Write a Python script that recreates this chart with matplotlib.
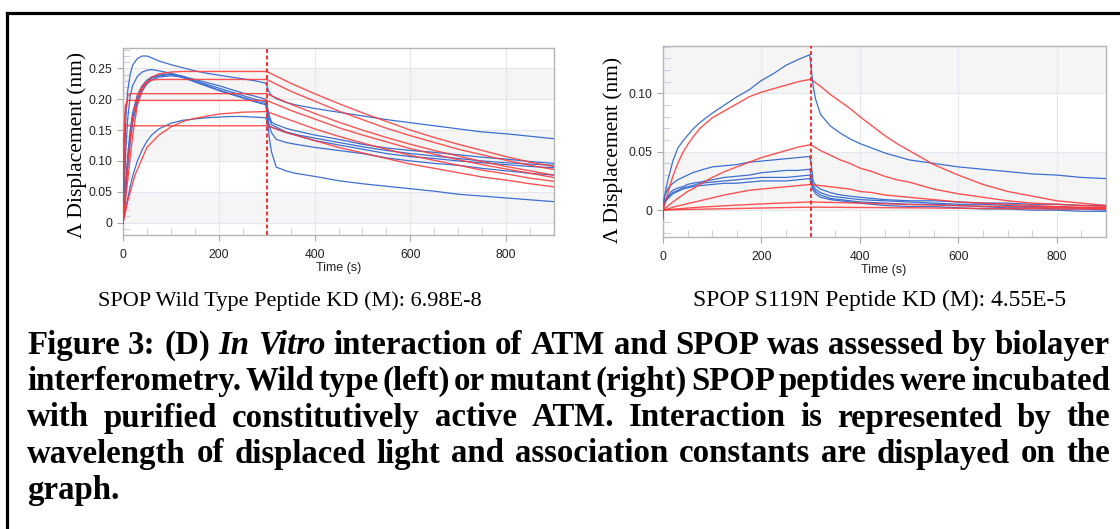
import matplotlib.pyplot as plt
from matplotlib.lines import Line2D
import numpy as np

# ---------------- data ----------------
# wild type peptide: measured traces (blue), one shared time base
wt_time = [0, 3, 6, 10, 15, 20, 30, 40, 50, 60, 75, 100, 125, 150, 175, 200, 225, 250, 275, 298,
           301, 305, 310, 320, 340, 360, 400, 450, 500, 550, 600, 650, 700, 750, 800, 850, 900]
wt_trace_1 = [0.0, 0.09, 0.17, 0.215, 0.240, 0.255, 0.266, 0.270, 0.270, 0.267, 0.262, 0.256, 0.251, 0.246, 0.242,
              0.239, 0.236, 0.233, 0.230, 0.226,
              0.220, 0.212, 0.206, 0.201, 0.195, 0.191, 0.185, 0.179, 0.173, 0.167, 0.162, 0.157, 0.152, 0.147,
              0.144, 0.140, 0.136]
wt_trace_2 = [0.0, 0.06, 0.12, 0.17, 0.205, 0.222, 0.237, 0.244, 0.247, 0.248, 0.246, 0.242, 0.237, 0.232, 0.227,
              0.222, 0.216, 0.210, 0.205, 0.200,
              0.190, 0.175, 0.163, 0.159, 0.153, 0.149, 0.142, 0.135, 0.127, 0.121, 0.117, 0.114, 0.110, 0.106,
              0.103, 0.099, 0.096]
wt_trace_3 = [0.0, 0.03, 0.07, 0.11, 0.15, 0.178, 0.207, 0.222, 0.231, 0.236, 0.239, 0.241, 0.237, 0.230, 0.224,
              0.218, 0.212, 0.206, 0.200, 0.196,
              0.185, 0.170, 0.159, 0.155, 0.147, 0.143, 0.137, 0.130, 0.123, 0.117, 0.112, 0.108, 0.104, 0.100,
              0.097, 0.095, 0.093]
wt_trace_4 = [0.0, 0.02, 0.05, 0.09, 0.13, 0.16, 0.195, 0.213, 0.225, 0.231, 0.236, 0.238, 0.236, 0.229, 0.222,
              0.215, 0.209, 0.203, 0.197, 0.193,
              0.175, 0.140, 0.115, 0.090, 0.084, 0.080, 0.075, 0.068, 0.063, 0.059, 0.055, 0.051, 0.046, 0.043,
              0.040, 0.037, 0.034]
wt_trace_5 = [0.0, 0.012, 0.025, 0.04, 0.058, 0.075, 0.10, 0.118, 0.132, 0.142, 0.152, 0.161, 0.166, 0.168, 0.170,
              0.171, 0.172, 0.172, 0.171, 0.170,
              0.165, 0.158, 0.155, 0.152, 0.146, 0.142, 0.133, 0.126, 0.119, 0.112, 0.107, 0.104, 0.100, 0.097,
              0.094, 0.091, 0.089]
wt_trace_6 = [0.0, 0.025, 0.06, 0.10, 0.14, 0.17, 0.20, 0.218, 0.228, 0.234, 0.238, 0.240, 0.235, 0.228, 0.221,
              0.214, 0.208, 0.202, 0.196, 0.191,
              0.180, 0.158, 0.146, 0.135, 0.130, 0.127, 0.122, 0.117, 0.112, 0.105, 0.100, 0.096, 0.093, 0.088,
              0.084, 0.080, 0.077]

# wild type: fitted curves (red), association part
wt_fit1_t = [0, 10, 20, 30, 40, 50, 60, 75, 100, 125, 300]
wt_fit1_v = [0, 0.07, 0.14, 0.19, 0.215, 0.228, 0.236, 0.241, 0.244, 0.245, 0.245]
wt_fit2_t = [0, 10, 20, 30, 40, 50, 60, 75, 300]
wt_fit2_v = [0, 0.10, 0.17, 0.205, 0.221, 0.228, 0.231, 0.232, 0.232]
wt_fit3_t = [0, 2, 5, 10, 15, 300]
wt_fit3_v = [0, 0.12, 0.18, 0.205, 0.209, 0.209]
wt_fit4_t = [0, 2, 5, 10, 300]
wt_fit4_v = [0, 0.14, 0.19, 0.198, 0.198]
wt_fit5_t = [0, 10, 25, 50, 75, 100, 125, 150, 200, 250, 300]
wt_fit5_v = [0, 0.035, 0.077, 0.122, 0.142, 0.155, 0.164, 0.169, 0.176, 0.179, 0.180]
wt_fit6_t = [0, 2, 5, 300]
wt_fit6_v = [0, 0.14, 0.157, 0.157]
# dissociation part
wt_off_t = [300, 350, 400, 450, 500, 550, 600, 650, 700, 750, 800, 850, 900]
wt_off_1 = [0.245, 0.226, 0.209, 0.193, 0.178, 0.164, 0.150, 0.138, 0.127, 0.117, 0.107, 0.098, 0.091]
wt_off_2 = [0.232, 0.213, 0.197, 0.181, 0.167, 0.153, 0.141, 0.130, 0.119, 0.110, 0.101, 0.093, 0.086]
wt_off_3 = [0.209, 0.192, 0.177, 0.163, 0.150, 0.138, 0.127, 0.117, 0.108, 0.099, 0.091, 0.084, 0.077]
wt_off_4 = [0.198, 0.182, 0.168, 0.154, 0.142, 0.131, 0.120, 0.111, 0.102, 0.094, 0.087, 0.080, 0.073]
wt_off_5 = [0.180, 0.166, 0.152, 0.140, 0.129, 0.119, 0.109, 0.101, 0.093, 0.085, 0.079, 0.072, 0.067]
wt_off_6 = [0.157, 0.144, 0.133, 0.122, 0.113, 0.104, 0.095, 0.088, 0.081, 0.074, 0.069, 0.063, 0.058]

# S119N mutant peptide: measured traces
mut_time = [0, 2, 5, 10, 15, 20, 30, 40, 50, 60, 75, 100, 125, 150, 175, 200, 225, 250, 275, 298,
            301, 305, 310, 320, 340, 360, 380, 400, 450, 500, 550, 600, 650, 700, 750, 800, 850, 900]
mut_trace_1 = [-0.008, 0.008, 0.016, 0.026, 0.034, 0.042, 0.053, 0.059, 0.064, 0.069, 0.075, 0.083, 0.090, 0.097,
               0.103, 0.111, 0.117, 0.124, 0.129, 0.133,
               0.122, 0.106, 0.095, 0.082, 0.072, 0.066, 0.061, 0.057, 0.049, 0.043, 0.040, 0.037, 0.035, 0.033,
               0.031, 0.030, 0.028, 0.027]
mut_trace_2 = [0.0, 0.010, 0.014, 0.018, 0.021, 0.023, 0.026, 0.028, 0.030, 0.032, 0.034, 0.037, 0.038, 0.039,
               0.041, 0.042, 0.043, 0.044, 0.045, 0.046,
               0.040, 0.025, 0.021, 0.018, 0.015, 0.013, 0.012, 0.011, 0.009, 0.008, 0.008, 0.007, 0.006, 0.006,
               0.005, 0.005, 0.004, 0.004]
mut_trace_3 = [0.0, 0.006, 0.009, 0.012, 0.015, 0.017, 0.019, 0.020, 0.022, 0.023, 0.024, 0.026, 0.028, 0.029,
               0.030, 0.032, 0.033, 0.034, 0.034, 0.035,
               0.030, 0.021, 0.018, 0.015, 0.012, 0.011, 0.010, 0.009, 0.008, 0.007, 0.006, 0.005, 0.005, 0.004,
               0.003, 0.003, 0.002, 0.002]
mut_trace_4 = [0.0, 0.005, 0.008, 0.011, 0.013, 0.015, 0.017, 0.019, 0.020, 0.021, 0.023, 0.024, 0.025, 0.026,
               0.027, 0.028, 0.028, 0.028, 0.029, 0.030,
               0.026, 0.019, 0.016, 0.013, 0.010, 0.009, 0.008, 0.007, 0.006, 0.005, 0.005, 0.004, 0.003, 0.002,
               0.002, 0.001, 0.001, 0.000]
mut_trace_5 = [0.0, 0.004, 0.007, 0.010, 0.012, 0.014, 0.016, 0.018, 0.019, 0.020, 0.021, 0.022, 0.023, 0.023,
               0.024, 0.025, 0.025, 0.025, 0.026, 0.027,
               0.023, 0.017, 0.014, 0.011, 0.009, 0.008, 0.007, 0.006, 0.004, 0.003, 0.003, 0.002, 0.001, 0.001,
               0.000, 0.000, -0.001, -0.001]

# mutant: fitted curves
mut_on_t = [0, 10, 20, 30, 40, 50, 60, 75, 100, 125, 150, 175, 200, 225, 250, 275, 300]
mut_on_1 = [0, 0.015, 0.029, 0.040, 0.049, 0.056, 0.062, 0.070, 0.079, 0.085, 0.091, 0.097, 0.101, 0.104, 0.107, 0.110, 0.112]
mut_on_2 = [0, 0.0035, 0.007, 0.010, 0.013, 0.016, 0.018, 0.022, 0.028, 0.033, 0.037, 0.041, 0.045, 0.048, 0.051, 0.054, 0.056]
mut_on_3 = [0, 0.001, 0.0025, 0.0035, 0.0045, 0.0055, 0.0065, 0.008, 0.0105, 0.013, 0.015, 0.017, 0.018, 0.019, 0.020, 0.021, 0.022]
mut_on_4 = [0, 0.0004, 0.0008, 0.0011, 0.0014, 0.0018, 0.0021, 0.0025, 0.0031, 0.0037, 0.0043, 0.0048, 0.0053, 0.0058, 0.0062, 0.0066, 0.007]
mut_on_5 = [0, 0.0001, 0.0003, 0.0004, 0.0005, 0.0006, 0.0007, 0.0008, 0.001, 0.0012, 0.0014, 0.0016, 0.0018, 0.002, 0.0022, 0.0024, 0.0025]
mut_off_t = [300, 320, 340, 360, 380, 400, 425, 450, 475, 500, 550, 600, 650, 700, 750, 800, 850, 900]
mut_off_1 = [0.112, 0.106, 0.099, 0.093, 0.087, 0.080, 0.072, 0.064, 0.057, 0.051, 0.039, 0.030, 0.022, 0.016, 0.012, 0.008, 0.006, 0.004]
mut_off_2 = [0.056, 0.051, 0.047, 0.043, 0.040, 0.036, 0.033, 0.029, 0.026, 0.024, 0.018, 0.014, 0.011, 0.008, 0.006, 0.005, 0.004, 0.003]
mut_off_3 = [0.022, 0.021, 0.020, 0.019, 0.018, 0.016, 0.015, 0.013, 0.012, 0.011, 0.009, 0.007, 0.006, 0.005, 0.004, 0.003, 0.0025, 0.002]
mut_off_4 = [0.007, 0.0068, 0.0066, 0.0064, 0.0062, 0.006, 0.0057, 0.0054, 0.0051, 0.0048, 0.0043, 0.0038, 0.0034, 0.003, 0.0026, 0.0022, 0.0018, 0.0015]
mut_off_5 = [0.0025, 0.0025, 0.0024, 0.0024, 0.0023, 0.0023, 0.0022, 0.0021, 0.002, 0.002, 0.0018, 0.0016, 0.0015, 0.0013, 0.0012, 0.001, 0.0009, 0.0008]

x_ticks = [0, 200, 400, 600, 800]
wt_yticks = [0, 0.05, 0.10, 0.15, 0.20, 0.25]
wt_ylabels = ['0', '0.05', '0.10', '0.15', '0.20', '0.25']
mut_yticks = [0, 0.05, 0.10]
mut_ylabels = ['0', '0.05', '0.10']

wt_caption = 'SPOP Wild Type Peptide KD (M): 6.98E-8'
mut_caption = 'SPOP S119N Peptide KD (M): 4.55E-5'
legend_lines = [
    'Figure 3: (D) In Vitro interaction of ATM and SPOP was assessed by biolayer',
    'interferometry. Wild type (left) or mutant (right) SPOP peptides were incubated',
    'with purified constitutively active ATM. Interaction is represented by the',
    'wavelength of displaced light and association constants are displayed on the',
    'graph.',
]
italic_words = {'In', 'Vitro'}

# ---------------- figure ----------------
W, H = 1120, 529
fig = plt.figure(figsize=(W / 100, H / 100), dpi=100)
fig.patch.set_facecolor('white')

BLUE = '#3d6fd1'
RED = '#ff3535'
TICK_FONT = 'Liberation Sans'


def fx(px):
    return px / W


def fy(py):
    return 1 - py / H


def style_axes(ax, ylim, yticks, ylabels, bands):
    ax.set_xlim(0, 900)
    ax.set_ylim(*ylim)
    for lo, hi in bands:
        ax.axhspan(lo, hi, color='#f5f5f5', lw=0, zorder=0)
    ax.set_xticks(x_ticks)
    ax.set_xticks(np.arange(50, 900, 50), minor=True)
    ax.set_yticks(yticks)
    ax.set_yticklabels(ylabels)
    ax.set_yticks(np.arange(-0.02, ylim[1], 0.01), minor=True)
    ax.grid(which='major', color='#e6e6ee', lw=0.8, zorder=0.5)
    ax.set_axisbelow(True)
    for s in ax.spines.values():
        s.set_color('#b5b5b5')
        s.set_linewidth(1.0)
    ax.tick_params(which='major', direction='out', length=4, width=0.8, color='#a8a8a8',
                   labelsize=8.8, labelcolor='#222222')
    ax.tick_params(axis='x', which='major', pad=6)
    ax.tick_params(axis='y', which='major', pad=4)
    ax.tick_params(which='minor', direction='in', length=5, width=0.8, color='#cfd0e6')
    for lab in ax.get_xticklabels() + ax.get_yticklabels():
        lab.set_fontfamily(TICK_FONT)
    ax.axvline(300, color='#ff2020', lw=1.3, ls=(0, (2.2, 1.4)), zorder=6)


# left panel
ax1 = fig.add_axes([fx(123), fy(235), fx(554 - 123), 187 / H])
style_axes(ax1, (0, 0.283), wt_yticks, wt_ylabels, [(0, 0.05), (0.10, 0.15), (0.20, 0.25)])
for tr in [wt_trace_1, wt_trace_2, wt_trace_3, wt_trace_4, wt_trace_5, wt_trace_6]:
    ax1.plot(wt_time, tr, color=BLUE, lw=0.9, zorder=3)
for t, v in [(wt_fit1_t, wt_fit1_v), (wt_fit2_t, wt_fit2_v), (wt_fit3_t, wt_fit3_v),
             (wt_fit4_t, wt_fit4_v), (wt_fit5_t, wt_fit5_v), (wt_fit6_t, wt_fit6_v)]:
    ax1.plot(t, v, color=RED, lw=1.0, alpha=0.85, zorder=4)
for v in [wt_off_1, wt_off_2, wt_off_3, wt_off_4, wt_off_5, wt_off_6]:
    ax1.plot(wt_off_t, v, color=RED, lw=1.0, alpha=0.85, zorder=4)

# right panel
ax2 = fig.add_axes([fx(663), fy(237), fx(1106 - 663), 191 / H])
style_axes(ax2, (-0.023, 0.1405), mut_yticks, mut_ylabels, [(0, 0.05), (0.10, 0.1405)])
for tr in [mut_trace_1, mut_trace_2, mut_trace_3, mut_trace_4, mut_trace_5]:
    ax2.plot(mut_time, tr, color=BLUE, lw=0.9, zorder=3)
for on, off in [(mut_on_1, mut_off_1), (mut_on_2, mut_off_2), (mut_on_3, mut_off_3),
                (mut_on_4, mut_off_4), (mut_on_5, mut_off_5)]:
    ax2.plot(mut_on_t, on, color=RED, lw=1.0, alpha=0.85, zorder=4)
    ax2.plot(mut_off_t, off, color=RED, lw=1.0, alpha=0.85, zorder=4)

# axis titles
for x, y in [(339, 268), (884, 270)]:
    fig.text(fx(x), fy(y), 'Time (s)', fontsize=9, family=TICK_FONT, color='#222222',
             ha='center', va='center')
for x, y in [(77, 145), (613, 150)]:
    fig.text(fx(x), fy(y), 'Λ Displacement (nm)', fontsize=15.5, family='Liberation Serif',
             rotation=90, ha='center', va='center')

# KD captions
fig.text(fx(290), fy(306), wt_caption, fontsize=16, family='Liberation Serif', ha='center', va='baseline')
fig.text(fx(880), fy(306), mut_caption, fontsize=17, family='Liberation Serif', ha='center', va='baseline')

# frame around the figure block (left and top edges visible)
fig.add_artist(Line2D([fx(6.5), fx(6.5)], [fy(13), 0], color='black', lw=2.3, transform=fig.transFigure))
fig.add_artist(Line2D([fx(6.5), 1], [fy(13), fy(13)], color='black', lw=2.3, transform=fig.transFigure))

# justified bold legend text
renderer = fig.canvas.get_renderer()
left_px, right_px = 27, 1110
baselines = [354, 390, 426.5, 462.5, 499]


def word_width(word, size):
    t = fig.text(0, 0, word, fontsize=size, family='Liberation Serif', weight='bold',
                 style='italic' if word in italic_words else 'normal')
    w = t.get_window_extent(renderer).width
    t.remove()
    return w


size = 26.0
for _ in range(4):
    need = 0
    for line in legend_lines[:-1]:
        words = line.split()
        need = max(need, sum(word_width(w, size) for w in words) + (len(words) - 1) * 0.12 * size * 100 / 72)
    if need <= right_px - left_px:
        break
    size *= (right_px - left_px) / need

for i, line in enumerate(legend_lines):
    words = line.split()
    widths = [word_width(w, size) for w in words]
    if i < len(legend_lines) - 1:
        gap = (right_px - left_px - sum(widths)) / (len(words) - 1)
    else:
        gap = 0.25 * size * 100 / 72
    x = left_px
    for w, wd in zip(words, widths):
        fig.text(fx(x), fy(baselines[i]), w, fontsize=size, family='Liberation Serif', weight='bold',
                 style='italic' if w in italic_words else 'normal', va='baseline', ha='left')
        x += wd + gap

fig.savefig('out.png', dpi=100)
